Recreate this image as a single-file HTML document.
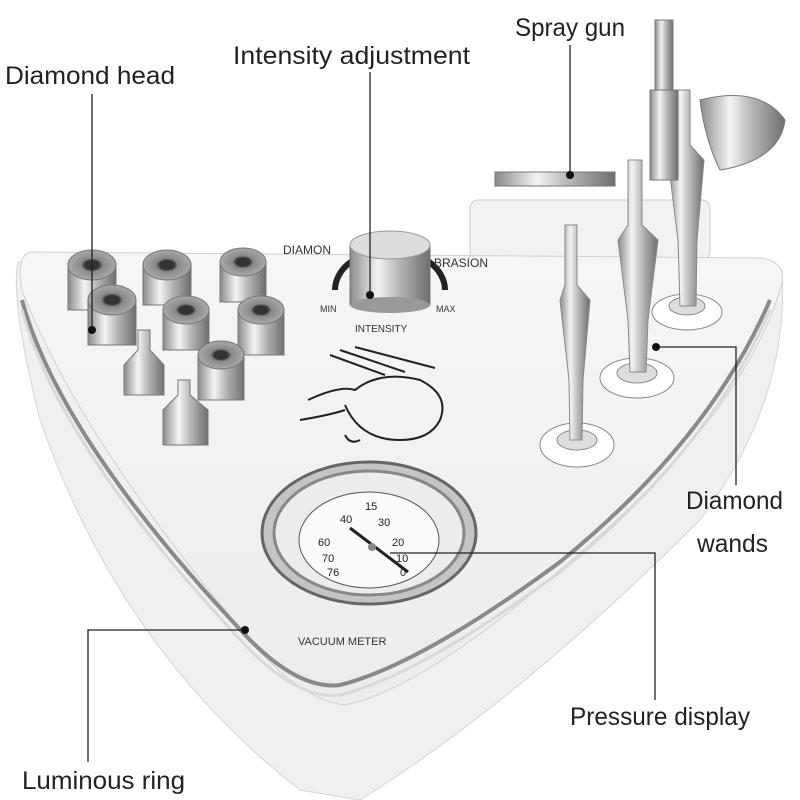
<!DOCTYPE html>
<html><head><meta charset="utf-8"><style>
html,body{margin:0;padding:0;background:#fff;}
svg{display:block;}
text{font-family:"Liberation Sans",sans-serif;}
</style></head><body>
<svg width="800" height="800" viewBox="0 0 800 800" xmlns="http://www.w3.org/2000/svg">
<defs>
<linearGradient id="met" x1="0" x2="1" y1="0" y2="0">
<stop offset="0" stop-color="#8a8a8a"/><stop offset="0.35" stop-color="#f4f4f4"/><stop offset="0.6" stop-color="#b8b8b8"/><stop offset="1" stop-color="#6e6e6e"/></linearGradient>
<linearGradient id="body" x1="0" x2="0" y1="0" y2="1">
<stop offset="0" stop-color="#f6f6f6"/><stop offset="1" stop-color="#ececec"/></linearGradient>
<radialGradient id="dia"><stop offset="0.3" stop-color="#333"/><stop offset="0.45" stop-color="#888"/><stop offset="1" stop-color="#aaa"/></radialGradient>
</defs>
<rect x="470" y="200" width="240" height="60" rx="8" fill="#f2f2f2" stroke="#ccc"/>
<path d="M18,262 Q10,300 40,420 Q120,650 300,790 L360,800 Q520,700 700,520 Q790,400 782,270 Z" fill="#f0f0f0" stroke="#d5d5d5"/>
<path d="M30,252 L760,258 Q790,262 780,290 Q740,420 560,570 Q420,690 345,705 Q300,700 250,640 Q80,440 22,290 Q16,256 30,252 Z" fill="url(#body)" stroke="#d0d0d0"/>
<path d="M22,300 Q60,440 250,640 Q300,690 340,685 Q420,665 560,562 Q710,440 770,300" fill="none" stroke="#8a8a8a" stroke-width="4"/>
<path d="M22,310 Q60,450 250,650 Q300,700 340,695 Q420,675 560,572 Q710,450 770,310" fill="none" stroke="#d8d8d8" stroke-width="3"/>
<g stroke="#777" stroke-width="1">
<rect x="68" y="265" width="48" height="45" fill="url(#met)"/><ellipse cx="92" cy="265" rx="24" ry="15" fill="url(#dia)"/>
<rect x="143" y="265" width="48" height="40" fill="url(#met)"/><ellipse cx="167" cy="265" rx="24" ry="15" fill="url(#dia)"/>
<rect x="220" y="262" width="46" height="40" fill="url(#met)"/><ellipse cx="243" cy="262" rx="23" ry="14" fill="url(#dia)"/>
<rect x="88" y="300" width="48" height="45" fill="url(#met)"/><ellipse cx="112" cy="300" rx="24" ry="15" fill="url(#dia)"/>
<rect x="163" y="310" width="46" height="40" fill="url(#met)"/><ellipse cx="186" cy="310" rx="23" ry="14" fill="url(#dia)"/>
<rect x="238" y="310" width="46" height="45" fill="url(#met)"/><ellipse cx="261" cy="310" rx="23" ry="14" fill="url(#dia)"/>
<rect x="198" y="355" width="46" height="45" fill="url(#met)"/><ellipse cx="221" cy="355" rx="23" ry="14" fill="url(#dia)"/>
<path d="M124,395 L124,365 L138,350 L138,330 L150,330 L150,350 L164,365 L164,395 Z" fill="url(#met)"/>
<path d="M163,445 L163,410 L178,395 L178,380 L190,380 L190,395 L208,410 L208,445 Z" fill="url(#met)"/>
</g>
<path d="M335,290 A55,40 0 0 1 445,290" fill="none" stroke="#222" stroke-width="6"/>
<rect x="350" y="245" width="80" height="60" fill="url(#met)" stroke="#777"/>
<ellipse cx="390" cy="245" rx="40" ry="14" fill="#ddd" stroke="#999"/>
<ellipse cx="390" cy="305" rx="40" ry="8" fill="#999"/>
<text x="283" y="254" font-size="12" fill="#333">DIAMON</text>
<text x="434" y="267" font-size="12" fill="#333">BRASION</text>
<text x="320" y="312" font-size="9" fill="#333">MIN</text>
<text x="436" y="312" font-size="9" fill="#333">MAX</text>
<text x="355" y="332" font-size="10" fill="#333">INTENSITY</text>
<g stroke="#222" stroke-width="2" fill="none">
<path d="M330,355 L385,375 M340,350 L405,372 M355,347 L435,368"/>
<path d="M308,400 Q340,385 355,390 Q380,370 420,380 Q450,395 440,420 Q430,440 400,440 Q360,440 345,405"/>
<path d="M300,420 Q330,415 345,410 M345,435 Q350,445 360,440"/>
</g>
<g stroke="#888">
<ellipse cx="577" cy="445" rx="37" ry="22" fill="#fff"/><ellipse cx="577" cy="440" rx="20" ry="10" fill="#ddd"/>
<ellipse cx="637" cy="378" rx="37" ry="20" fill="#fff"/><ellipse cx="637" cy="373" rx="20" ry="10" fill="#ddd"/>
<ellipse cx="687" cy="312" rx="35" ry="18" fill="#fff"/><ellipse cx="687" cy="306" rx="18" ry="9" fill="#ddd"/>
<path d="M565,225 L577,225 L577,285 L590,300 L583,380 L582,440 L570,440 L569,380 L560,300 L565,285 Z" fill="url(#met)"/>
<path d="M628,160 L642,160 L642,225 L658,240 L648,320 L646,372 L630,372 L628,320 L618,240 L628,225 Z" fill="url(#met)"/>
<path d="M676,90 L690,90 L690,145 L704,160 L697,240 L696,306 L680,306 L678,240 L668,160 L676,145 Z" fill="url(#met)"/>
</g>
<g stroke="#777">
<rect x="495" y="172" width="120" height="14" fill="url(#met)"/>
<rect x="655" y="20" width="18" height="80" fill="url(#met)"/>
<rect x="650" y="90" width="28" height="90" fill="url(#met)"/>
<path d="M700,100 Q760,85 785,120 Q780,160 720,170 Q705,140 700,100 Z" fill="url(#met)"/>
</g>
<ellipse cx="369" cy="533" rx="107" ry="71" fill="#c4c4c4" stroke="#666" stroke-width="3"/>
<ellipse cx="369" cy="533" rx="95" ry="62" fill="#ececec" stroke="#888" stroke-width="3"/>
<ellipse cx="369" cy="540" rx="70" ry="48" fill="#fafafa" stroke="#555"/>
<g font-size="11" fill="#222">
<text x="365" y="510">15</text><text x="340" y="523">40</text><text x="378" y="526">30</text>
<text x="318" y="546">60</text><text x="392" y="546">20</text><text x="322" y="562">70</text>
<text x="396" y="562">10</text><text x="327" y="576">76</text><text x="400" y="576">0</text>
</g>
<line x1="350" y1="528" x2="408" y2="572" stroke="#222" stroke-width="3"/>
<circle cx="372" cy="547" r="4" fill="#888"/>
<text x="298" y="645" font-size="11" fill="#333">VACUUM METER</text>
<g stroke="#222" stroke-width="1.3" fill="none">
<path d="M92,94 L92,330"/>
<path d="M370,72 L370,295"/>
<path d="M570,45 L570,175"/>
<path d="M656,347 L736,347 L736,485"/>
<path d="M390,553 L655,553 L655,700"/>
<path d="M245,630 L88,630 L88,762"/>
</g>
<g fill="#111"><circle cx="92" cy="330" r="4"/><circle cx="370" cy="295" r="4"/><circle cx="570" cy="175" r="4"/><circle cx="656" cy="347" r="4"/><circle cx="245" cy="630" r="4"/></g>
<g font-size="25" fill="#222">
<text x="5" y="84" textLength="170" lengthAdjust="spacingAndGlyphs">Diamond head</text>
<text x="233" y="64" textLength="237" lengthAdjust="spacingAndGlyphs">Intensity adjustment</text>
<text x="515" y="36" textLength="110" lengthAdjust="spacingAndGlyphs">Spray gun</text>
<text x="686" y="509" textLength="97" lengthAdjust="spacingAndGlyphs">Diamond</text>
<text x="697" y="552" textLength="71" lengthAdjust="spacingAndGlyphs">wands</text>
<text x="570" y="725" textLength="180" lengthAdjust="spacingAndGlyphs">Pressure display</text>
<text x="22" y="789" textLength="163" lengthAdjust="spacingAndGlyphs">Luminous ring</text>
</g>
</svg>
</body></html>
